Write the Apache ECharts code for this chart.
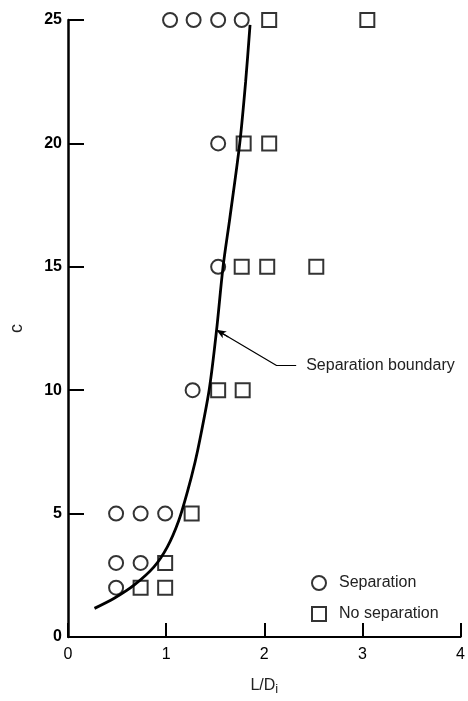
<!DOCTYPE html>
<html>
<head>
<meta charset="utf-8">
<script src="https://cdn.jsdelivr.net/npm/echarts@6/dist/echarts.min.js"></script>
<style>html,body{margin:0;padding:0;background:#fff;}#chart{width:468px;height:701px;}</style>
</head>
<body>
<div id="chart"></div>
<script>
// Data
var separationL = [1.04, 1.28, 1.53, 1.77, 1.53, 1.53, 1.27, 0.49, 0.74, 0.99, 0.49, 0.74, 0.49];
var separationC = [25, 25, 25, 25, 20, 15, 10, 5, 5, 5, 3, 3, 2];
var noSeparationL = [2.05, 3.05, 1.79, 2.05, 1.77, 2.03, 2.53, 1.53, 1.78, 1.26, 0.99, 0.74, 0.99];
var noSeparationC = [25, 25, 20, 20, 15, 15, 15, 10, 10, 5, 3, 2, 2];
var boundaryL = [0.27, 0.475, 0.676, 0.876, 1.011, 1.127, 1.218, 1.295, 1.345, 1.44, 1.513, 1.58, 1.65, 1.75, 1.81, 1.855];
var boundaryC = [1.16, 1.58, 2.11, 2.84, 3.64, 4.70, 5.90, 7.09, 8.02, 10.05, 12.4, 15.0, 17.0, 20.0, 22.5, 24.8];
var annotationL = [1.51, 2.125, 2.325];
var annotationC = [12.45, 11.0, 11.0];
var annotationText = 'Separation boundary';
var xTicks = [0, 1, 2, 3, 4];
var yTicks = [0, 5, 10, 15, 20, 25];

function zip(a, b) { return a.map(function (v, i) { return [v, b[i]]; }); }

var chart = echarts.init(document.getElementById('chart'));
var font = 'Liberation Sans, Arial, sans-serif';
var markerStyle = { color: 'rgba(255,255,255,0)', borderColor: '#000', borderWidth: 2 };
var ann = zip(annotationL, annotationC);

chart.setOption({
  animation: false,
  backgroundColor: '#fff',
  grid: { left: 66, right: 4, top: 20, bottom: 53, containLabel: false },
  legend: {
    orient: 'vertical', left: 306, top: 570,
    itemWidth: 14, itemHeight: 14, itemGap: 15,
    data: [{ name: 'Separation', icon: 'circle' }, { name: 'No separation', icon: 'rect' }],
    itemStyle: { color: '#fff', borderColor: '#000', borderWidth: 2 },
    textStyle: { fontFamily: font, fontSize: 16, color: '#222', padding: [0, 0, 0, 8] }
  },
  xAxis: {
    type: 'value', min: 0, max: 4, interval: 1,
    name: 'L/D{sub|i}', nameLocation: 'middle', nameGap: 38,
    nameTextStyle: { fontFamily: font, fontSize: 16, color: '#222',
      rich: { sub: { fontFamily: font, fontSize: 13, verticalAlign: 'bottom', padding: [8, 0, 0, 0] } } },
    axisLine: { lineStyle: { color: '#000', width: 2 } },
    axisTick: { inside: true, length: 14, lineStyle: { color: '#000', width: 2 } },
    axisLabel: { fontFamily: font, fontSize: 16, color: '#000', margin: 10,
      formatter: function (v) { return xTicks.indexOf(v) >= 0 ? String(v) : ''; } },
    splitLine: { show: false }
  },
  yAxis: {
    type: 'value', min: 0, max: 25, interval: 5,
    name: 'c', nameLocation: 'middle', nameGap: 42, nameRotate: 90,
    nameTextStyle: { fontFamily: font, fontSize: 18, color: '#222' },
    axisLine: { show: true, lineStyle: { color: '#000', width: 2.5 } },
    axisTick: { show: true, inside: true, length: 16, lineStyle: { color: '#000', width: 2 } },
    axisLabel: { fontFamily: font, fontSize: 16, fontWeight: 'bold', color: '#000', margin: 6,
      formatter: function (v) { return yTicks.indexOf(v) >= 0 ? String(v) : ''; } },
    splitLine: { show: false }
  },
  series: [
    {
      name: 'Boundary', type: 'line', smooth: 0.3, showSymbol: false, z: 3,
      data: zip(boundaryL, boundaryC),
      lineStyle: { color: '#000', width: 2.8 }
    },
    {
      name: 'Annotation', type: 'line', showSymbol: false, symbol: 'none', z: 3,
      data: ann,
      lineStyle: { color: '#000', width: 1.2 },
      endLabel: { show: true, formatter: annotationText, fontFamily: font, fontSize: 16, color: '#222', distance: 10 },
      markLine: {
        silent: true, symbol: ['arrow', 'none'], symbolSize: [6, 10],
        lineStyle: { color: '#000', width: 1.2, type: 'solid' }, label: { show: false },
        data: [[{ coord: ann[0] }, { coord: [ann[0][0] + (ann[1][0] - ann[0][0]) * 0.2, ann[0][1] + (ann[1][1] - ann[0][1]) * 0.2] }]]
      }
    },
    {
      name: 'Separation', type: 'scatter', symbol: 'circle', symbolSize: 14, z: 4,
      data: zip(separationL, separationC), itemStyle: markerStyle
    },
    {
      name: 'No separation', type: 'scatter', symbol: 'rect', symbolSize: 14, z: 4,
      data: zip(noSeparationL, noSeparationC), itemStyle: markerStyle
    }
  ]
});
</script>
</body>
</html>
